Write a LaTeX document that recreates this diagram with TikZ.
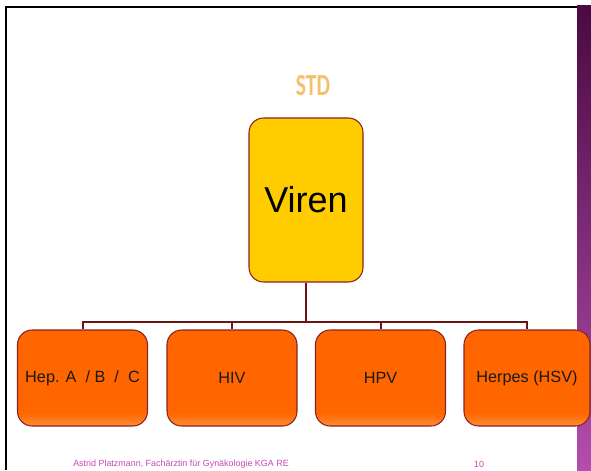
\documentclass[tikz,border=0pt]{standalone}
\usepackage{fontspec}
\setmainfont{Liberation Sans}
\newfontfamily\titlefont{Carlito}
\usetikzlibrary{calc}

\definecolor{rahmen}{HTML}{8B2323}
\definecolor{linie}{HTML}{6B1414}
\definecolor{gelb}{HTML}{FFCC00}
\definecolor{orange}{HTML}{FF6600}
\definecolor{orangehell}{HTML}{FF8C33}
\definecolor{lilaoben}{HTML}{4A0A42}
\definecolor{lilaunten}{HTML}{B44DAE}
\definecolor{fusszeile}{HTML}{C845B8}
\definecolor{titel}{HTML}{F5C06A}

\pgfdeclareverticalshading{kasten}{100bp}{color(0bp)=(orangehell); color(25bp)=(orangehell); color(32bp)=(orange); color(100bp)=(orange)}

\tikzset{
	virus/.style = {draw = rahmen, line width = 0.8pt, rounded corners = 11pt, fill = gelb, minimum width = 85.5pt, minimum height = 123pt, inner sep = 0pt, font = \fontsize{27}{30}\selectfont},
	gruppe/.style = {draw = rahmen, line width = 0.8pt, rounded corners = 11pt, shading = kasten, minimum width = 97.5pt, minimum height = 72pt, inner sep = 0pt, font = \fontsize{12.2}{15}\selectfont, text = black!90},
	ast/.style = {draw = linie, line width = 1.5pt}
}

\begin{document}
\begin{tikzpicture}[x = 0.75pt, y = -0.75pt]
				            \useasboundingbox (0,0) rectangle (591,470);
				            \fill [white](0,0) rectangle (591,470);
				            \shade [top color = lilaoben, bottom color = lilaunten](577,6) rectangle (591,470);
				            \draw [line width = 2pt](6,470) -- (6,7) -- (577,7);
				            \node (titel) at (313,86) [xscale = 0.7, text = titel, font = \titlefont\bfseries\fontsize{23}{26}\selectfont]{STD};
				            \node (viren) at (306,200) [virus]{Viren};
				            \node (hep) at (82.5,378) [gruppe]{Hep. A~~/ B~~/~~C};
				            \node (hiv) at (232,378) [gruppe]{HIV};
				            \node (hpv) at (380.5,378) [gruppe]{HPV};
				            \node (hsv) at (527,378) [gruppe, minimum width = 94.5pt]{Herpes (HSV)};
				            \coordinate (bus) at (306,322);
				            \draw [ast](viren.south) -- (bus);
				            \foreach \kind in {hep, hiv, hpv, hsv}
				            	\draw [ast](\kind.north) |- (bus);
				            \node (autor) at (73,464) [anchor = west, inner sep = 0pt, text = fusszeile, font = \fontsize{6.7}{8}\selectfont]{Astrid Platzmann, Fachärztin für Gynäkologie KGA RE};
				            \node (seite) at (479,464) [inner sep = 0pt, text = fusszeile, font = \fontsize{6.7}{8}\selectfont]{10};
			            \end{tikzpicture}
\end{document}
